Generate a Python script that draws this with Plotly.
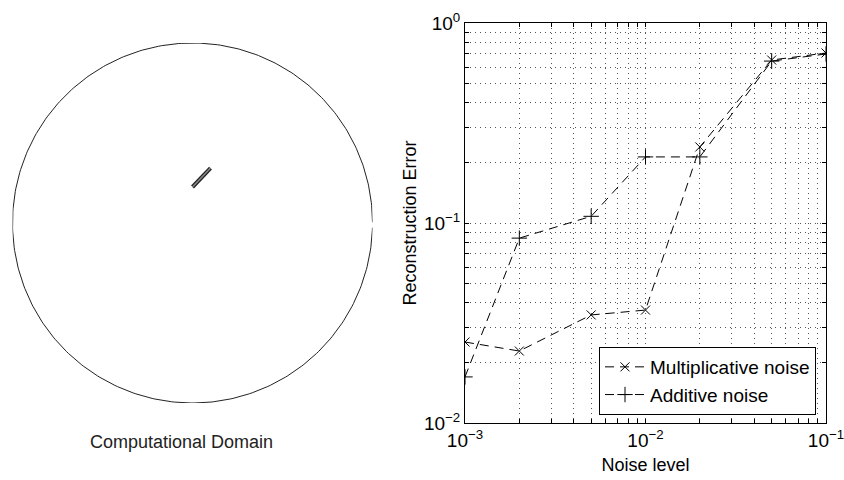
import numpy as np
import plotly.graph_objects as go

noise = [0.001, 0.002, 0.005, 0.01, 0.02, 0.05, 0.1]
mult_err = [0.0254, 0.0229, 0.0347, 0.0367, 0.240, 0.653, 0.708]
add_err = [0.0170, 0.084, 0.108, 0.214, 0.214, 0.645, 0.700]

x_decades = [0.001, 0.01, 0.1]
x_labels = ["10<sup>−3</sup>", "10<sup>−2</sup>", "10<sup>−1</sup>"]
y_decades = [0.01, 0.1, 1]
y_labels = ["10<sup>−2</sup>", "10<sup>−1</sup>", "10<sup>0</sup>"]
digits = [1, 2, 3, 4, 5, 6, 7, 8, 9]

crack_x = [0.0, 0.1]
crack_y = [0.2, 0.305]

W, H = 844, 480
FONT = "Liberation Sans, Arial, Helvetica, sans-serif"


def grid_ticks(decades, labels):
    vals, texts = [], []
    for i, d in enumerate(decades):
        if i == len(decades) - 1:
            vals.append(d)
            texts.append(labels[i])
            break
        for k in digits:
            vals.append(d * k)
            texts.append(labels[i] if k == 1 else "")
    return vals, texts


xv, xt = grid_ticks(x_decades, x_labels)
yv, yt = grid_ticks(y_decades, y_labels)

fig = go.Figure()

fig.add_trace(go.Scatter(x=noise, y=mult_err, mode="lines+markers",
                         name="Multiplicative noise",
                         line=dict(color="black", width=1, dash="9px,6px"),
                         marker=dict(symbol="x-thin", size=9, line=dict(color="black", width=1)),
                         xaxis="x", yaxis="y"))
fig.add_trace(go.Scatter(x=noise, y=add_err, mode="lines+markers",
                         name="Additive noise",
                         line=dict(color="black", width=1, dash="9px,6px"),
                         marker=dict(symbol="cross-thin", size=11, line=dict(color="black", width=1)),
                         xaxis="x", yaxis="y"))

theta = np.linspace(0.004, 2 * np.pi - 0.026, 400)
fig.add_trace(go.Scatter(x=np.cos(theta), y=np.sin(theta), mode="lines",
                         line=dict(color="#222", width=1), showlegend=False,
                         hoverinfo="skip", xaxis="x2", yaxis="y2"))
fig.add_trace(go.Scatter(x=crack_x, y=crack_y, mode="lines",
                         line=dict(color="#222", width=4), showlegend=False,
                         xaxis="x2", yaxis="y2"))
fig.add_trace(go.Scatter(x=crack_x, y=crack_y, mode="lines",
                         line=dict(color="#888", width=1.5), showlegend=False,
                         xaxis="x2", yaxis="y2"))

axis_common = dict(showline=True, linecolor="black", linewidth=1, mirror="ticks",
                   ticks="inside", ticklen=4, tickcolor="black",
                   showgrid=True, gridcolor="#555", griddash="1px,4px", gridwidth=1,
                   zeroline=False, automargin=False, ticklabeloverflow="allow",
                   tickfont=dict(family=FONT, size=19, color="black"))

fig.update_layout(
    width=W, height=H,
    margin=dict(l=0, r=0, t=0, b=0),
    paper_bgcolor="white", plot_bgcolor="white",
    font=dict(family=FONT, color="black"),
    xaxis=dict(type="log", domain=[465 / W, 826 / W], range=[-3, -1],
               tickmode="array", tickvals=xv, ticktext=xt,
               title=dict(text="Noise level", font=dict(size=18, family=FONT), standoff=8),
               anchor="y", **axis_common),
    yaxis=dict(type="log", domain=[1 - 423 / H, 1 - 23 / H], range=[-2, 0],
               tickmode="array", tickvals=yv, ticktext=yt,
               title=dict(text="Reconstruction Error", font=dict(size=18, family=FONT), standoff=2),
               anchor="x", **axis_common),
    xaxis2=dict(domain=[12.5 / W, 372.5 / W], range=[-1.0, 1.0], visible=False, anchor="y2"),
    yaxis2=dict(domain=[1 - 403 / H, 1 - 43 / H], range=[-1.0, 1.0], visible=False, anchor="x2"),
    legend=dict(x=816 / W, y=1 - 415 / H, xanchor="right", yanchor="bottom",
                bgcolor="white", bordercolor="black", borderwidth=1,
                font=dict(family=FONT, size=19, color="black"),
                tracegroupgap=0, itemwidth=40),
    annotations=[dict(text="Computational Domain", x=181 / W, y=1 - 442 / H,
                      xref="paper", yref="paper", showarrow=False,
                      xanchor="center", yanchor="middle",
                      font=dict(family=FONT, size=18, color="#222"))],
)

fig.write_html("out.html", config={"displayModeBar": False},
               post_script="document.body.style.margin='0';document.body.style.overflow='hidden';")
